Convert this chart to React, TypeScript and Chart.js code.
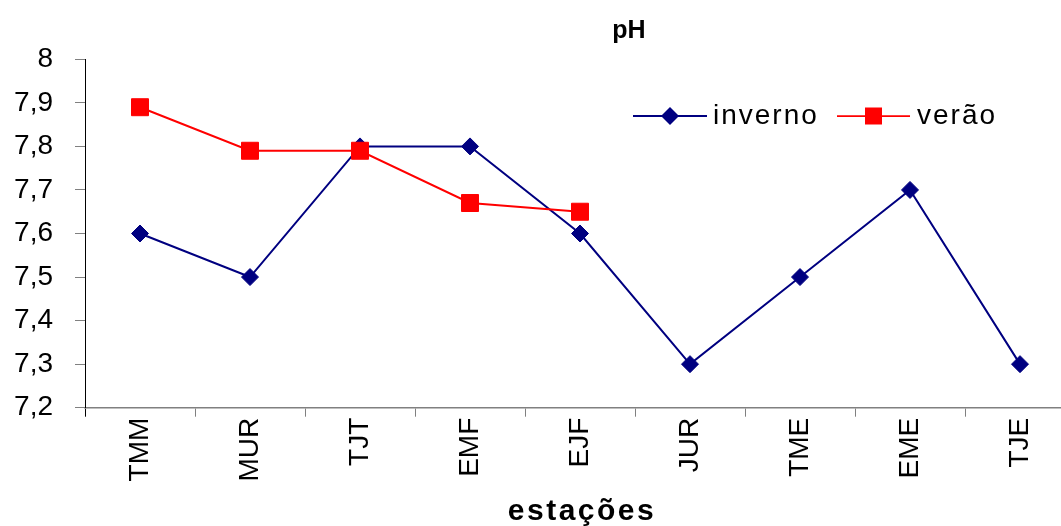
import React, { useEffect, useRef } from 'react';
import { Chart, registerables } from 'chart.js';

Chart.register(...registerables);

const categories = ['TMM', 'MUR', 'TJT', 'EMF', 'EJF', 'JUR', 'TME', 'EME', 'TJE'];
const invernoValues = [7.6, 7.5, 7.8, 7.8, 7.6, 7.3, 7.5, 7.7, 7.3];
const veraoValues = [7.89, 7.79, 7.79, 7.67, 7.65, null, null, null, null];
const seriesNames = ['inverno', 'verão'];
const yMin = 7.2;
const yMax = 8;
const yStep = 0.1;
const chartTitle = 'pH';
const xAxisTitle = 'estações';

const FONT = 'Arial, "Liberation Sans", sans-serif';
const NAVY = '#000080';
const RED = '#FF0000';
const GRAY = '#808080';

const W = 1088;
const H = 526;

function drawDiamond(ctx: CanvasRenderingContext2D, x: number, y: number, r: number, color: string) {
  ctx.beginPath();
  ctx.moveTo(x, y - r);
  ctx.lineTo(x + r, y);
  ctx.lineTo(x, y + r);
  ctx.lineTo(x - r, y);
  ctx.closePath();
  ctx.fillStyle = color;
  ctx.fill();
}

function drawSquare(ctx: CanvasRenderingContext2D, x: number, y: number, s: number, color: string) {
  ctx.fillStyle = color;
  ctx.fillRect(x - s / 2, y - s / 2, s, s);
}

export default function App() {
  const ref = useRef<HTMLCanvasElement>(null);

  useEffect(() => {
    if (!ref.current) return;

    const textPlugin = {
      id: 'customTexts',
      afterDraw(chart: any) {
        const ctx: CanvasRenderingContext2D = chart.ctx;
        const area = chart.chartArea;
        ctx.save();
        ctx.fillStyle = '#000';
        ctx.textBaseline = 'alphabetic';

        // Chart title
        ctx.font = `bold 25px ${FONT}`;
        ctx.textAlign = 'center';
        ctx.fillText(chartTitle, 629, 38);

        // X axis title
        ctx.font = `bold 30px ${FONT}`;
        (ctx as any).letterSpacing = '2.5px';
        ctx.fillText(xAxisTitle, (area.left + area.right) / 2 + 2, 520);
        (ctx as any).letterSpacing = '0px';

        // Legend
        ctx.font = `28px ${FONT}`;
        (ctx as any).letterSpacing = '2px';
        ctx.textAlign = 'left';
        const ly = 116;
        const items = [
          { label: seriesNames[0], color: NAVY, lw: 2, x0: 633, x1: 707, tx: 713, kind: 'diamond' },
          { label: seriesNames[1], color: RED, lw: 1.75, x0: 837, x1: 910, tx: 917, kind: 'square' },
        ];
        for (const it of items) {
          ctx.strokeStyle = it.color;
          ctx.lineWidth = it.lw;
          ctx.beginPath();
          ctx.moveTo(it.x0, ly);
          ctx.lineTo(it.x1, ly);
          ctx.stroke();
          const cx = (it.x0 + it.x1) / 2;
          if (it.kind === 'diamond') drawDiamond(ctx, cx, ly, 9, it.color);
          else drawSquare(ctx, cx, ly, 17, it.color);
          ctx.fillStyle = '#000';
          ctx.fillText(it.label, it.tx, ly + 7.5);
        }
        ctx.restore();
      },
    };

    const chart = new Chart(ref.current, {
      type: 'line',
      data: {
        labels: categories,
        datasets: [
          {
            label: seriesNames[0],
            data: invernoValues,
            borderColor: NAVY,
            backgroundColor: NAVY,
            borderWidth: 2,
            pointStyle: 'rectRot',
            pointRadius: 8.5,
            pointBorderWidth: 1,
            pointBackgroundColor: NAVY,
            pointBorderColor: NAVY,
            tension: 0,
            order: 1,
          },
          {
            label: seriesNames[1],
            data: veraoValues,
            borderColor: RED,
            backgroundColor: RED,
            borderWidth: 2,
            pointStyle: 'rect',
            pointRadius: 12,
            pointBorderWidth: 1,
            pointBackgroundColor: RED,
            pointBorderColor: RED,
            tension: 0,
            spanGaps: false,
            order: 0,
          },
        ],
      },
      options: {
        responsive: false,
        animation: false,
        events: [],
        layout: { padding: { top: 59.3, right: 5, left: 0, bottom: 0 } },
        plugins: {
          legend: { display: false },
          title: { display: false },
          tooltip: { enabled: false },
        },
        scales: {
          x: {
            type: 'category',
            offset: true,
            grid: {
              offset: true,
              drawOnChartArea: false,
              drawTicks: true,
              tickLength: 9,
              color: (c: any) => (c.index === 0 ? '#000' : GRAY),
              lineWidth: 1,
            },
            border: { display: true, color: GRAY, width: 1.5 },
            ticks: {
              color: '#000',
              font: { family: FONT, size: 28 },
              maxRotation: 90,
              minRotation: 90,
              autoSkip: false,
              padding: 1,
            },
            afterFit(scale: any) {
              scale.height = 118.3;
              scale.paddingRight = 0;
              scale.paddingLeft = 0;
            },
          },
          y: {
            min: yMin,
            max: yMax,
            grid: {
              drawOnChartArea: false,
              drawTicks: true,
              tickLength: 10,
              color: GRAY,
              lineWidth: 1,
            },
            border: { display: true, color: '#000', width: 1 },
            ticks: {
              stepSize: yStep,
              color: '#000',
              font: { family: FONT, size: 28 },
              padding: 22,
              callback: (v: any) => {
                const n = Math.round(Number(v) * 10) / 10;
                return String(n).replace('.', ',');
              },
            },
            afterFit(scale: any) {
              scale.width = 85;
            },
          },
        },
      },
      plugins: [textPlugin],
    });

    return () => chart.destroy();
  }, []);

  return (
    <div style={{ position: 'absolute', left: 0, top: 0, width: 1061, height: H, overflow: 'hidden', background: '#fff' }}>
      <canvas ref={ref} width={W} height={H} style={{ display: 'block', width: W, height: H }} />
    </div>
  );
}
